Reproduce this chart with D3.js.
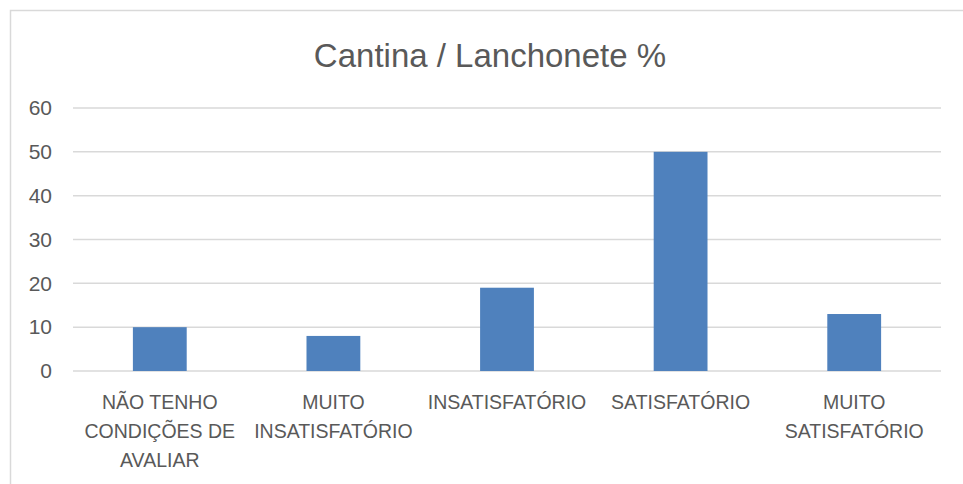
<!DOCTYPE html>
<html>
<head>
<meta charset="utf-8">
<script src="https://cdnjs.cloudflare.com/ajax/libs/d3/7.8.5/d3.min.js"></script>
<style>
  body { margin: 0; background: #fff; }
  svg text { font-family: "Liberation Sans", Arial, sans-serif; fill: #595959; }
</style>
</head>
<body>
<div id="chart"></div>
<script>
// Chart data.
var title = "Cantina / Lanchonete %";
var categories = [
  ["NÃO TENHO", "CONDIÇÕES DE", "AVALIAR"],
  ["MUITO", "INSATISFATÓRIO"],
  ["INSATISFATÓRIO"],
  ["SATISFATÓRIO"],
  ["MUITO", "SATISFATÓRIO"]
];
var values = [10, 8, 19, 50, 13];
var yTicks = [0, 10, 20, 30, 40, 50, 60];

// Layout.
var width = 963;
var height = 484;
var plotLeft = 73;
var plotRight = 941;
var plotTop = 108;
var plotBottom = 371;

var svg = d3.select("#chart")
    .append("svg")
    .attr("width", width)
    .attr("height", height);

// Chart border (runs off the right and bottom of the picture).
svg.append("rect")
    .attr("x", 10.5)
    .attr("y", 10.5)
    .attr("width", 980)
    .attr("height", 500)
    .attr("fill", "none")
    .attr("stroke", "#d9d9d9")
    .attr("stroke-width", 1.5);

// Title.
svg.append("text")
    .attr("x", 490)
    .attr("y", 67)
    .attr("text-anchor", "middle")
    .style("font-size", "33px")
    .text(title);

var x = d3.scaleBand()
    .domain(d3.range(categories.length))
    .range([plotLeft, plotRight])
    .paddingInner(0.69)
    .paddingOuter(0.345);

var y = d3.scaleLinear()
    .domain([0, 60])
    .range([plotBottom, plotTop]);

// Gridlines.
svg.append("g")
    .selectAll("line")
    .data(yTicks)
    .enter()
    .append("line")
    .attr("x1", plotLeft)
    .attr("x2", plotRight)
    .attr("y1", d => y(d))
    .attr("y2", d => y(d))
    .attr("stroke", "#d9d9d9")
    .attr("stroke-width", 1.5);

// Y axis labels.
var yAxis = d3.axisLeft(y)
    .tickValues(yTicks)
    .tickSize(0)
    .tickPadding(21);

svg.append("g")
    .attr("id", "y-axis")
    .attr("transform", "translate(" + plotLeft + ",0)")
    .call(yAxis)
    .call(g => g.select(".domain").remove())
    .selectAll("text")
    .style("font-size", "21px")
    .attr("fill", "#595959");

// Bars.
svg.append("g")
    .selectAll("rect")
    .data(values)
    .enter()
    .append("rect")
    .attr("x", (d, i) => x(i))
    .attr("y", d => y(d))
    .attr("width", x.bandwidth())
    .attr("height", d => y(0) - y(d))
    .attr("fill", "#4f81bd");

// Category labels, one tspan per line.
var labels = svg.append("g")
    .selectAll("text")
    .data(categories)
    .enter()
    .append("text")
    .attr("x", (d, i) => x(i) + x.bandwidth() / 2)
    .attr("y", 409)
    .attr("text-anchor", "middle")
    .style("font-size", "19.5px");

labels.selectAll("tspan")
    .data(d => d)
    .enter()
    .append("tspan")
    .attr("x", function() { return this.parentNode.getAttribute("x"); })
    .attr("dy", (d, i) => i === 0 ? 0 : 29)
    .text(d => d);
</script>
</body>
</html>
